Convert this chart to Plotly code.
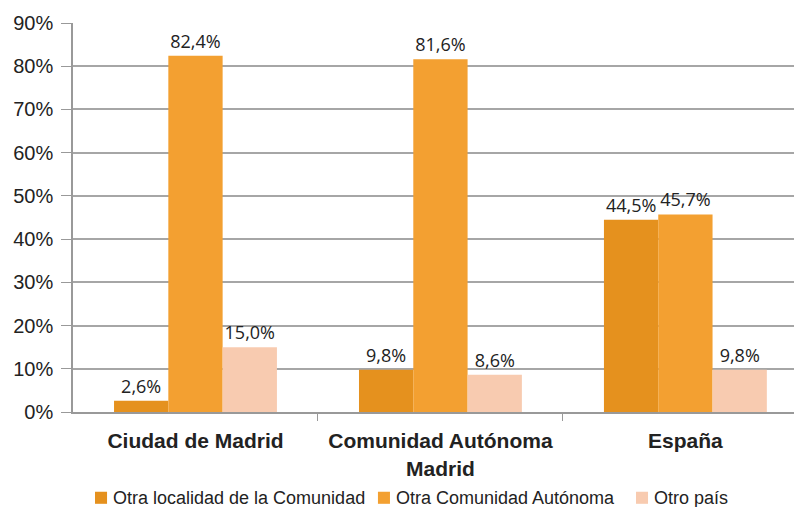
import plotly.graph_objects as go

categories = ["Ciudad de Madrid", "Comunidad Autónoma<br>Madrid", "España"]
series_names = ["Otra localidad de la Comunidad", "Otra Comunidad Autónoma", "Otro país"]
otra_localidad = [2.6, 9.8, 44.5]
otra_comunidad = [82.4, 81.6, 45.7]
otro_pais = [15.0, 8.6, 9.8]
colors = ["#E5911E", "#F3A031", "#F8CBB0"]

x_pos = list(range(len(categories)))
fig = go.Figure()
for name, vals, col in zip(series_names, [otra_localidad, otra_comunidad, otro_pais], colors):
    fig.add_trace(go.Bar(
        x=x_pos, y=vals,
        name=name,
        marker=dict(color=col, line=dict(width=0)),
        text=[f"{v:.1f}%".replace(".", ",") for v in vals],
        textposition="outside",
        textfont=dict(family="Open Sans", size=18, color="#222222"),
        cliponaxis=False,
        showlegend=False,
    ))

# legend drawn by hand so the swatches sit close to the text
legend_x = [0.0302, 0.4183, 0.7723]
for lx, name, col in zip(legend_x, series_names, colors):
    fig.add_shape(type="rect", xref="paper", yref="paper",
                  x0=lx, x1=lx + 0.0165, y0=-0.236, y1=-0.205,
                  fillcolor=col, line=dict(width=0))
    fig.add_annotation(text=name, xref="paper", yref="paper",
                       x=lx + 0.0225, y=-0.221, xanchor="left", yanchor="middle",
                       showarrow=False,
                       font=dict(family="Liberation Sans, Arial", size=18, color="#222222"))

# page body has an 8px margin, so the figure is 8px smaller than the window
fig.update_layout(
    barmode="group",
    bargap=0.335,
    bargroupgap=0,
    width=794, height=499,
    margin=dict(l=65, r=0, t=15, b=95, autoexpand=False),
    plot_bgcolor="white",
    paper_bgcolor="white",
    font=dict(family="Liberation Sans, Arial", size=18, color="#222222"),
    xaxis=dict(
        range=[-0.5, 2.476],
        tickvals=x_pos, ticktext=categories,
        tickfont=dict(family="Liberation Sans, Arial", size=21, color="#222222", weight="bold"),
        ticks="",
        ticklabelstandoff=9,
        showline=True, linecolor="#999999", linewidth=2,
        showgrid=False, zeroline=False,
        minor=dict(tickvals=[0.5, 1.5], ticks="outside", ticklen=7, tickcolor="#999999", tickwidth=1, showgrid=False),
    ),
    yaxis=dict(
        range=[0, 90], dtick=10, ticksuffix="%",
        showgrid=True, gridcolor="#A6A6A6", gridwidth=1.5,
        showline=True, linecolor="#999999", linewidth=1.5,
        ticks="outside", ticklen=10, tickcolor="#999999",
        ticklabelstandoff=4,
        zeroline=False,
        tickfont=dict(size=20, color="#222222"),
    ),
)

fig.write_html("out.html")
